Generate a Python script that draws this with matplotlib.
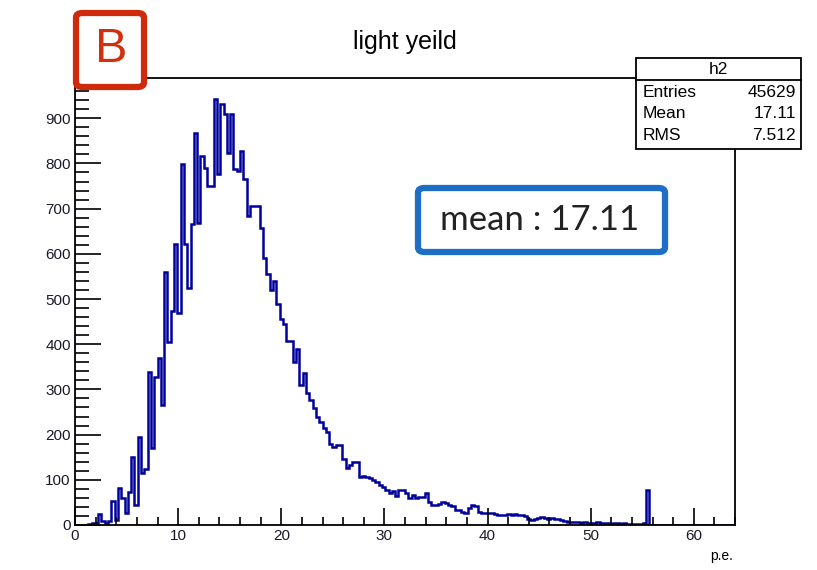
import numpy as np
import matplotlib
matplotlib.use("Agg")
import matplotlib.pyplot as plt
from matplotlib.patches import FancyBboxPatch, Rectangle
from matplotlib.ticker import MultipleLocator

# histogram h2: 200 bins on [0, 64] p.e.
n_bins = 200
x_lo, x_hi = 0.0, 64.0
counts = [
    0, 0, 0, 0, 3, 5, 5, 24, 8, 5,
    8, 53, 10, 82, 60, 26, 73, 150, 44, 194,
    115, 125, 338, 170, 327, 370, 265, 560, 405, 474,
    622, 470, 798, 622, 525, 666, 867, 668, 816, 790,
    750, 750, 942, 776, 931, 909, 823, 909, 788, 783,
    827, 765, 684, 706, 706, 706, 658, 590, 556, 520,
    540, 490, 456, 444, 408, 408, 360, 390, 309, 337,
    291, 276, 258, 240, 227, 214, 205, 180, 172, 176,
    178, 145, 126, 132, 139, 139, 106, 108, 106, 104,
    100, 95, 88, 84, 77, 70, 75, 65, 77, 77,
    70, 60, 66, 60, 63, 63, 70, 51, 44, 44,
    46, 51, 48, 44, 42, 33, 33, 29, 26, 37,
    44, 42, 29, 26, 26, 27, 26, 24, 22, 22,
    22, 24, 22, 24, 22, 22, 20, 14, 11, 13,
    15, 17, 15, 13, 15, 13, 13, 10, 9, 7,
    7, 6, 7, 5, 6, 5, 5, 5, 6, 5,
    4, 5, 3, 4, 4, 3, 4, 3, 3, 3,
    3, 3, 4, 77, 0, 0, 0, 0, 0, 0,
    0, 0, 0, 0, 0, 0, 0, 0, 0, 0,
    0, 0, 0, 0, 0, 0, 0, 0, 0, 0,
]
hist_title = "light yeild"
x_label = "p.e."
stats_name = "h2"
stats_rows = [("Entries", "45629"), ("Mean", "17.11"), ("RMS", "7.512")]
panel_tag = "B"
mean_note = "mean : 17.11"

W, H = 817, 570
fig = plt.figure(figsize=(W / 100, H / 100), dpi=100)
fig.patch.set_facecolor("white")

def fx(px):
    return px / W

def fy(py):
    return 1 - py / H

ax_l, ax_r, ax_t, ax_b = 75, 735, 78, 525
ax = fig.add_axes([fx(ax_l), fy(ax_b), (ax_r - ax_l) / W, (ax_b - ax_t) / H])

edges = np.linspace(x_lo, x_hi, n_bins + 1)
ax.stairs(counts, edges, color="#00009c", lw=1.8, baseline=0)

ax.set_xlim(x_lo, x_hi)
ax.set_ylim(0, max(counts) * 1.05)

ax.xaxis.set_major_locator(MultipleLocator(10))
ax.xaxis.set_minor_locator(MultipleLocator(2))
ax.yaxis.set_major_locator(MultipleLocator(100))
ax.yaxis.set_minor_locator(MultipleLocator(20))

for s in ax.spines.values():
    s.set_linewidth(1.3)
    s.set_color("black")

label_font = ["Liberation Sans", "DejaVu Sans"]
ax.tick_params(axis="x", which="major", direction="in", length=12, width=1.2,
               top=False, labelsize=11, pad=3)
ax.tick_params(axis="x", which="minor", direction="in", length=6, width=1.2, top=False)
ax.tick_params(axis="y", which="major", direction="in", length=19, width=1.2,
               right=False, labelsize=11, pad=3)
ax.tick_params(axis="y", which="minor", direction="in", length=10, width=1.2, right=False)
for lab in ax.get_xticklabels() + ax.get_yticklabels():
    lab.set_family(label_font)
    lab.set_color("#1a1a2a")

# title and axis label
fig.text(fx(405), fy(42), hist_title, ha="center", va="center",
         fontsize=18, family=label_font)
fig.text(fx(733), fy(556), x_label, ha="right", va="center",
         fontsize=10, family=label_font)

# statistics box
bx_l, bx_r, bx_t, bx_b, bx_mid = 636, 801, 58, 149, 80
fig.add_artist(Rectangle((fx(bx_l), fy(bx_b)), (bx_r - bx_l) / W, (bx_b - bx_t) / H,
                         transform=fig.transFigure, facecolor="white",
                         edgecolor="black", lw=1.3, zorder=5))
fig.add_artist(plt.Line2D([fx(bx_l), fx(bx_r)], [fy(bx_mid), fy(bx_mid)],
                          transform=fig.transFigure, color="black", lw=1.3, zorder=6))
fig.text(fx((bx_l + bx_r) / 2), fy(69), stats_name, ha="center", va="center",
         fontsize=12.5, family=label_font, zorder=7)
for k, (name, val) in enumerate(stats_rows):
    yy = fy(92 + 22 * k)
    fig.text(fx(643), yy, name, ha="left", va="center", fontsize=12.5,
             family=label_font, zorder=7)
    fig.text(fx(796), yy, val, ha="right", va="center", fontsize=12.5,
             family=label_font, zorder=7)

# panel tag
tag = FancyBboxPatch((fx(76), fy(87)), (144 - 76) / W, (87 - 13) / H,
                     boxstyle="round,pad=0.0,rounding_size=0.008",
                     transform=fig.transFigure, facecolor="white",
                     edgecolor="#d02a0c", lw=4.5, zorder=8)
fig.add_artist(tag)
fig.text(fx(111), fy(50), panel_tag, ha="center", va="center", fontsize=35,
         color="#d0300f", family=["Liberation Sans", "DejaVu Sans"], zorder=9)

# mean annotation
note = FancyBboxPatch((fx(418), fy(252)), (665 - 418) / W, (252 - 188) / H,
                      boxstyle="round,pad=0.0,rounding_size=0.008",
                      transform=fig.transFigure, facecolor="white",
                      edgecolor="#1d6ec6", lw=4.5, zorder=8)
fig.add_artist(note)
fig.text(fx(540), fy(220), mean_note, ha="center", va="center", fontsize=25,
         color="#222222", family=["Lato", "DejaVu Sans"], zorder=9)

fig.savefig("out.png", dpi=100, facecolor="white")
